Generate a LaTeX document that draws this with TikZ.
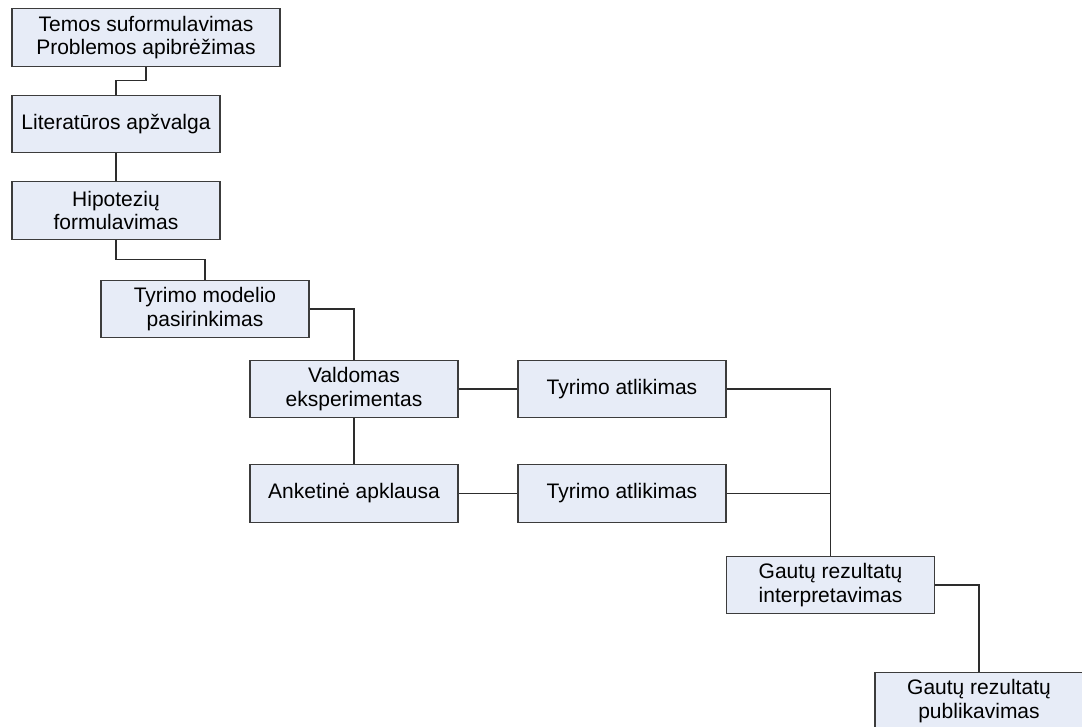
\documentclass[tikz,border=0pt]{standalone}
\usepackage{fontspec}
\setmainfont{Liberation Sans}
\usetikzlibrary{calc}
\definecolor{boxfill}{RGB}{231,236,247}
\definecolor{boxline}{RGB}{60,60,60}
\definecolor{wire}{RGB}{45,45,45}
\begin{document}
\begin{tikzpicture}[x=1pt,y=-1pt,
  stepbox/.style={draw=boxline,fill=boxfill,line width=1.2pt,
    minimum width=208pt,minimum height=57.5pt,inner sep=0pt,
    align=center,font=\fontsize{21}{23.5}\selectfont},
  wide/.style={minimum width=268pt},
  link/.style={draw=wire,line width=1.2pt},
  zig/.style={to path={|- ($(\tikztostart)!0.5!(\tikztotarget)$) -| (\tikztotarget)}}]
\useasboundingbox (0,0) rectangle (1082,727);
\clip (0,0) rectangle (1082,727);

% process steps
\node[stepbox,wide] (b1) at (146,37.5) {Temos suformulavimas\\Problemos apibrėžimas};
\node[stepbox] (b2) at (116,124) {Literatūros apžvalga};
\node[stepbox] (b3) at (116,210.5) {Hipotezių\\formulavimas};
\node[stepbox] (b4) at (205,309) {Tyrimo modelio\\pasirinkimas};
\node[stepbox] (b5) at (354,389) {Valdomas\\eksperimentas};
\node[stepbox] (b6) at (354,493.5) {Anketinė apklausa};
\node[stepbox] (t1) at (622,389) {Tyrimo atlikimas};
\node[stepbox] (t2) at (622,493.5) {Tyrimo atlikimas};
\node[stepbox] (g1) at (830.5,585) {Gautų rezultatų\\interpretavimas};
\node[stepbox] (g2) at (979,701) {Gautų rezultatų\\publikavimas};

% connectors
\path[link] (b1.south) to[zig] (b2.north);
\draw[link] (b2.south) -- (b3.north);
\path[link] (b3.south) to[zig] (b4.north);
\draw[link] (b4.east) -| (b5.north);
\draw[link] (b5.south) -- (b6.north);
\draw[link] (b5.east) -- (t1.west);
\draw[link] (b6.east) -- (t2.west);
\draw[link] (t1.east) -| (g1.north);
\draw[link] (t2.east) -| (g1.north);
\draw[link] (g1.east) -| (g2.north);
\end{tikzpicture}
\end{document}
